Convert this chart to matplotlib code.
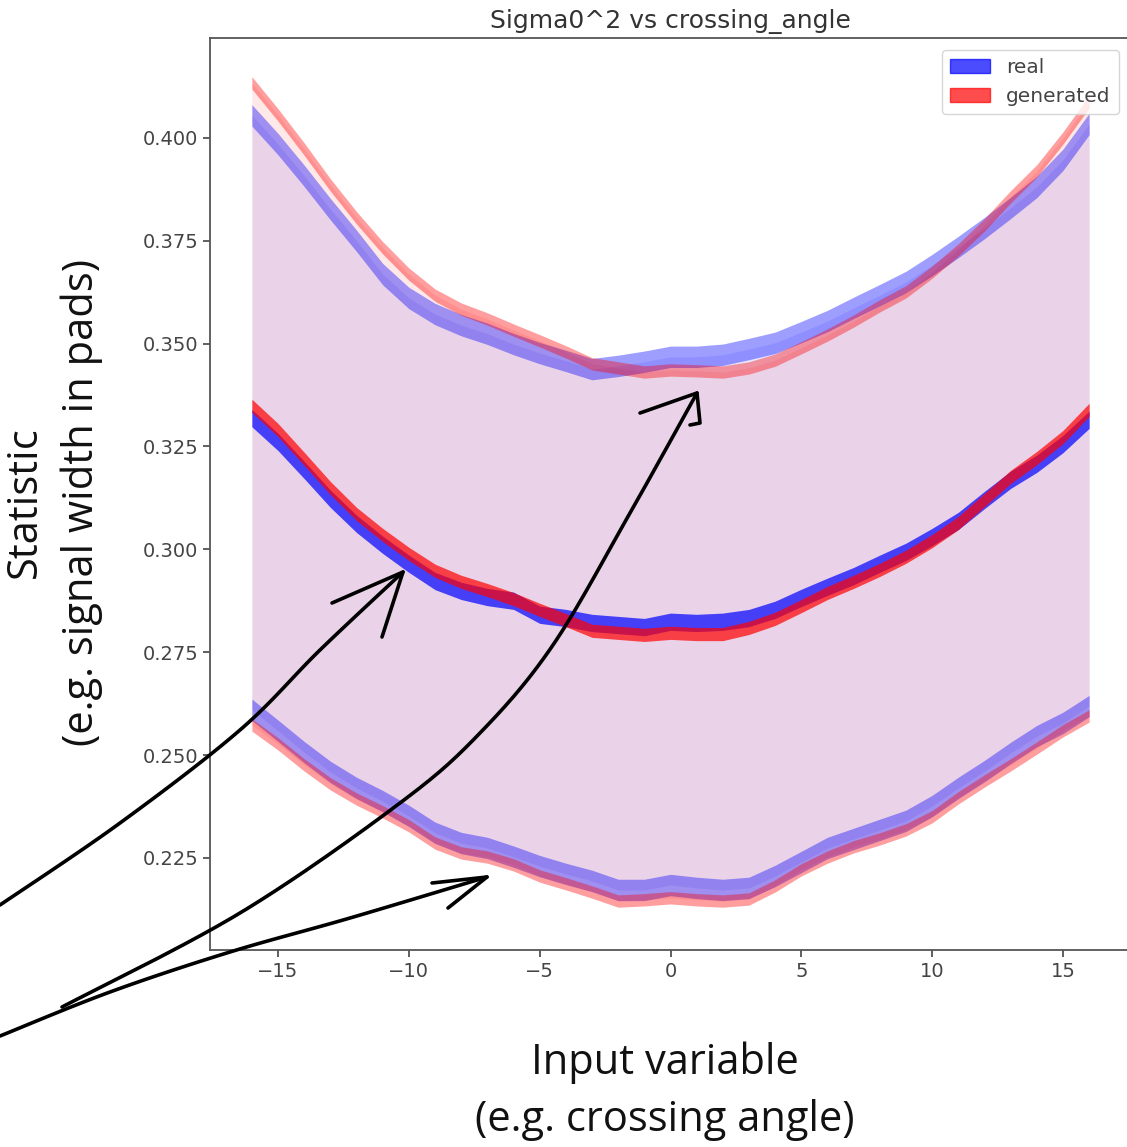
import numpy as np
import matplotlib
matplotlib.use('Agg')
import matplotlib.pyplot as plt
from matplotlib.patches import Patch
from matplotlib.lines import Line2D

# --- data ---
x = np.arange(-16, 17)

real_mean = [0.3319, 0.3261, 0.3193, 0.3123, 0.3062, 0.3011, 0.2965, 0.2923, 0.2899, 0.2884, 0.2875,
             0.2841, 0.2833, 0.2821, 0.2816, 0.2811, 0.2824, 0.2821, 0.2824, 0.2833, 0.2853, 0.2882,
             0.2909, 0.2935, 0.2965, 0.2994, 0.3030, 0.3069, 0.3120, 0.3169, 0.3208, 0.3256, 0.3315]
gen_mean = [0.3349, 0.3290, 0.3220, 0.3149, 0.3086, 0.3035, 0.2989, 0.2948, 0.2921, 0.2901, 0.2879,
            0.2853, 0.2828, 0.2802, 0.2797, 0.2792, 0.2797, 0.2794, 0.2794, 0.2809, 0.2831, 0.2862,
            0.2894, 0.2921, 0.2950, 0.2982, 0.3020, 0.3064, 0.3120, 0.3176, 0.3222, 0.3273, 0.3339]

real_upper = [0.4055, 0.3985, 0.3908, 0.3827, 0.3750, 0.3669, 0.3611, 0.3572, 0.3545, 0.3524, 0.3499,
              0.3477, 0.3458, 0.3438, 0.3446, 0.3456, 0.3468, 0.3468, 0.3473, 0.3487, 0.3502, 0.3528,
              0.3555, 0.3587, 0.3618, 0.3650, 0.3691, 0.3735, 0.3781, 0.3830, 0.3881, 0.3947, 0.4034]
gen_upper = [0.4134, 0.4056, 0.3973, 0.3886, 0.3806, 0.3733, 0.3669, 0.3618, 0.3584, 0.3560, 0.3533,
             0.3507, 0.3480, 0.3451, 0.3441, 0.3431, 0.3436, 0.3434, 0.3431, 0.3441, 0.3460, 0.3490,
             0.3521, 0.3555, 0.3592, 0.3626, 0.3674, 0.3728, 0.3789, 0.3857, 0.3920, 0.4000, 0.4088]

real_lower = [0.2610, 0.2559, 0.2507, 0.2459, 0.2420, 0.2388, 0.2352, 0.2311, 0.2286, 0.2274, 0.2253,
              0.2230, 0.2211, 0.2194, 0.2172, 0.2172, 0.2184, 0.2177, 0.2172, 0.2177, 0.2206, 0.2240,
              0.2274, 0.2296, 0.2318, 0.2340, 0.2376, 0.2420, 0.2461, 0.2505, 0.2546, 0.2578, 0.2619]
gen_lower = [0.2573, 0.2527, 0.2476, 0.2430, 0.2393, 0.2362, 0.2328, 0.2286, 0.2262, 0.2252, 0.2233,
             0.2206, 0.2187, 0.2167, 0.2145, 0.2148, 0.2153, 0.2148, 0.2145, 0.2150, 0.2182, 0.2221,
             0.2252, 0.2277, 0.2296, 0.2318, 0.2350, 0.2396, 0.2437, 0.2476, 0.2517, 0.2559, 0.2595]

# half widths of the uncertainty bands
real_mean_err = 0.0021
gen_mean_err = 0.0016
real_std_err = 0.0026
gen_std_err = 0.0015

W, H = 1127, 1147


def fig_xy(pts):
    pts = np.asarray(pts, dtype=float)
    return pts[:, 0] / W, 1 - pts[:, 1] / H


def smooth(pts, n=24):
    # catmull-rom through the hand drawn stroke points
    p = np.asarray(pts, dtype=float)
    p = np.vstack([p[0], p, p[-1]])
    out = []
    for i in range(1, len(p) - 2):
        p0, p1, p2, p3 = p[i - 1], p[i], p[i + 1], p[i + 2]
        for t in np.linspace(0, 1, n, endpoint=False):
            out.append(0.5 * ((2 * p1) + (-p0 + p2) * t + (2 * p0 - 5 * p1 + 4 * p2 - p3) * t ** 2
                              + (-p0 + 3 * p1 - 3 * p2 + p3) * t ** 3))
    out.append(p[-2])
    return np.array(out)


fig = plt.figure(figsize=(W / 100, H / 100), dpi=100)
ax = fig.add_axes([210 / W, 1 - 950 / H, 921 / W, 912 / H])

rm, gm = np.array(real_mean), np.array(gen_mean)
ru, gu = np.array(real_upper), np.array(gen_upper)
rl, gl = np.array(real_lower), np.array(gen_lower)

# spread
ax.fill_between(x, rl, ru, color='blue', alpha=0.09, lw=0)
ax.fill_between(x, gl, gu, color='red', alpha=0.09, lw=0)
# mean +- std edges
ax.fill_between(x, ru - real_std_err, ru + real_std_err, color='blue', alpha=0.38, lw=0)
ax.fill_between(x, rl - real_std_err, rl + real_std_err, color='blue', alpha=0.38, lw=0)
ax.fill_between(x, gu - gen_std_err, gu + gen_std_err, color='red', alpha=0.38, lw=0)
ax.fill_between(x, gl - gen_std_err, gl + gen_std_err, color='red', alpha=0.38, lw=0)
# mean
ax.fill_between(x, rm - real_mean_err, rm + real_mean_err, color='blue', alpha=0.7, lw=0)
ax.fill_between(x, gm - gen_mean_err, gm + gen_mean_err, color='red', alpha=0.7, lw=0)

ax.set_xlim(-17.6, 17.6)
ax.set_ylim(0.2026, 0.4243)
ax.set_xticks([-15, -10, -5, 0, 5, 10, 15])
ax.set_yticks([0.225, 0.250, 0.275, 0.300, 0.325, 0.350, 0.375, 0.400])
ax.tick_params(labelsize=14, colors='#444444', length=5, width=1.2)
for s in ax.spines.values():
    s.set_color('#555555')
    s.set_linewidth(1.3)
ax.set_title('Sigma0^2 vs crossing_angle', fontsize=18, color='#333333', pad=7)

handles = [Patch(color='blue', alpha=0.7, label='real'),
           Patch(color='red', alpha=0.7, label='generated')]
ax.legend(handles=handles, loc='upper right', fontsize=14.5, labelcolor='#444444',
          borderaxespad=0.6)

# big annotation labels
big = dict(fontsize=30, family='Open Sans', color='#111111', ha='center', va='center')
fig.text(25 / W, 1 - 502 / H, 'Statistic', rotation=90, **big)
fig.text(82 / W, 1 - 502 / H, '(e.g. signal width in pads)', rotation=90, **big)
fig.text(665 / W, 1 - 1063 / H, 'Input variable', **big)
fig.text(665 / W, 1 - 1120 / H, '(e.g. crossing angle)', **big)

# hand drawn arrows (pixel positions of the picture)
strokes = [
    smooth([(0, 905), (120, 823), (240, 730), (320, 650), (403, 572)]),
    np.array([(332, 603), (403, 572), (382, 637)]),
    smooth([(62, 1007), (240, 913), (400, 803), (480, 733), (553, 645), (630, 513), (697, 393)]),
    np.array([(640, 413), (697, 393), (700, 423), (690, 425)]),
    smooth([(0, 1036), (110, 992), (230, 952), (350, 918), (487, 877)]),
    np.array([(432, 883), (487, 877), (448, 908)]),
]
for st in strokes:
    fx, fy = fig_xy(st)
    fig.add_artist(Line2D(fx, fy, transform=fig.transFigure, color='black', lw=2.6,
                          solid_capstyle='round', solid_joinstyle='round'))

fig.savefig('out.png', dpi=100)
